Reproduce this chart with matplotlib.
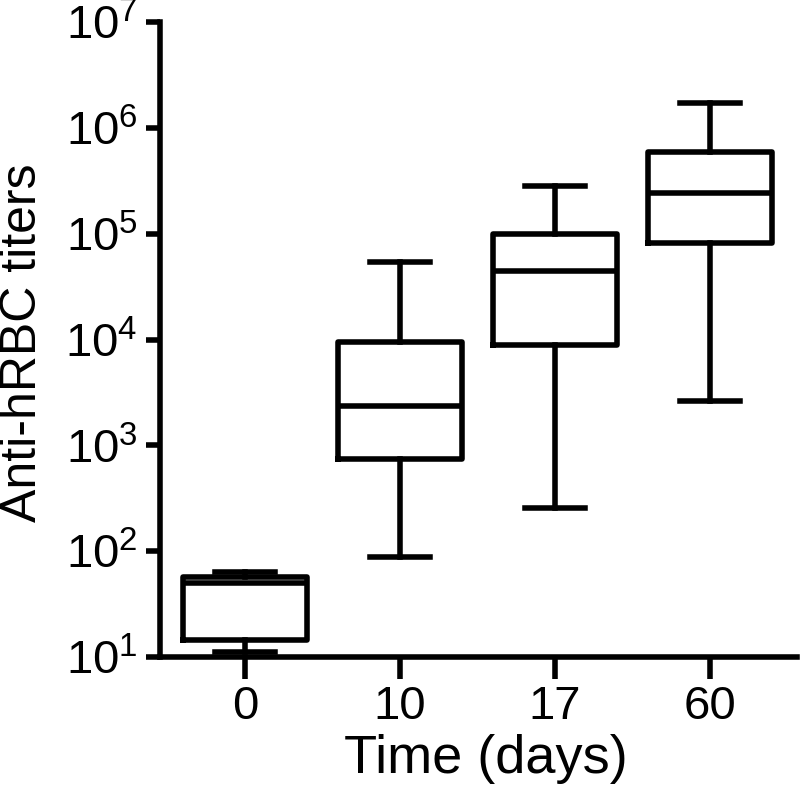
import matplotlib
matplotlib.use("Agg")
import matplotlib.pyplot as plt
from matplotlib.ticker import LogLocator, LogFormatterMathtext, NullLocator

plt.rcParams['font.family'] = ['Liberation Sans', 'DejaVu Sans']
plt.rcParams['mathtext.fontset'] = 'custom'
plt.rcParams['mathtext.rm'] = 'Liberation Sans'
plt.rcParams['mathtext.it'] = 'Liberation Sans'
plt.rcParams['mathtext.bf'] = 'Liberation Sans'

categories = ["0", "10", "17", "60"]
whisker_low = [11.1, 88, 256, 2630]
q1 = [14.5, 743, 8890, 81800]
median = [50, 2360, 44400, 243000]
q3 = [57, 9500, 99500, 593000]
whisker_high = [63.5, 54000, 283000, 1720000]

stats = []
for i, c in enumerate(categories):
    stats.append(dict(label=c, whislo=whisker_low[i], q1=q1[i], med=median[i],
                      q3=q3[i], whishi=whisker_high[i], fliers=[]))

fig = plt.figure(figsize=(8, 7.91), dpi=100)
ax = fig.add_axes([0.2, 0.1694, 0.796, 0.8026])

lw = 4.0
ax.bxp(stats, positions=range(len(categories)), widths=0.8,
       showfliers=False, patch_artist=False,
       boxprops=dict(color='black', linewidth=lw),
       medianprops=dict(color='black', linewidth=lw),
       whiskerprops=dict(color='black', linewidth=lw),
       capprops=dict(color='black', linewidth=lw),
       capwidths=0.39)

ax.set_yscale('log')
ax.set_ylim(10, 1e7)
ax.set_xlim(-0.55, 3.56)
ax.yaxis.set_major_locator(LogLocator(base=10, numticks=10))
ax.yaxis.set_major_formatter(LogFormatterMathtext())
ax.yaxis.set_minor_locator(NullLocator())

ax.set_xticks(range(len(categories)))
ax.set_xticklabels(categories)

for s in ['top', 'right']:
    ax.spines[s].set_visible(False)
for s in ['left', 'bottom']:
    ax.spines[s].set_linewidth(lw)

ax.tick_params(axis='y', which='major', length=10, width=lw, labelsize=34, pad=6)
ax.tick_params(axis='x', which='major', length=16, width=lw, labelsize=34, pad=4)

ax.set_xlabel("Time (days)", fontsize=39)
ax.xaxis.set_label_coords(0.511, -0.122)
ax.set_ylabel("Anti-hRBC titers", fontsize=36)
ax.yaxis.set_label_coords(-0.179, 0.495)

fig.savefig("out.png", dpi=100)
